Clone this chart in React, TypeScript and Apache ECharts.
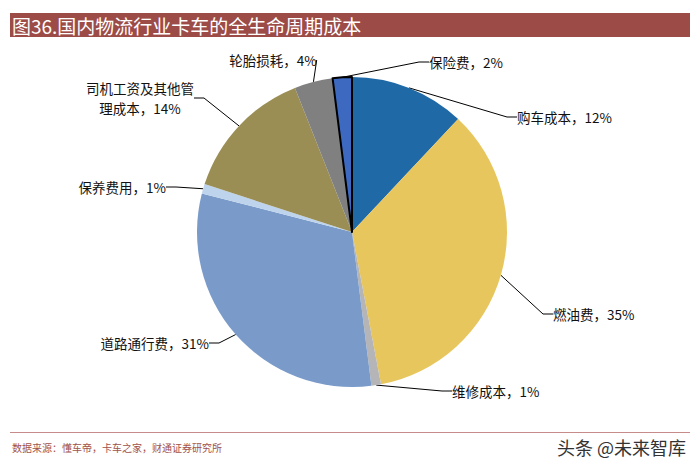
import React, { useEffect, useRef } from "react";
import * as echarts from "echarts";

const categories = ["购车成本", "燃油费", "维修成本", "道路通行费", "保养费用", "司机工资及其他管理成本", "轮胎损耗", "保险费"];
const shares = [12, 35, 1, 31, 1, 14, 4, 2];
const sliceColors = ["#1F69A6", "#E8C65E", "#B5B5B8", "#7A9BCA", "#BDD4EC", "#9A8E55", "#808080", "#3D6AC0"];
const titleText = "图36.国内物流行业卡车的全生命周期成本";
const sourceText = "数据来源：懂车帝，卡车之家，财通证券研究所";
const watermarkText = "头条 @未来智库";

// label anchor positions (layout only)
const labelPos: { x: number; y: number; align: string }[] = [
  { x: 517, y: 117, align: "left" },
  { x: 553, y: 314, align: "left" },
  { x: 452, y: 391, align: "left" },
  { x: 209, y: 343, align: "right" },
  { x: 166, y: 187, align: "right" },
  { x: 140, y: 98, align: "center" },
  { x: 273, y: 60, align: "center" },
  { x: 429, y: 62, align: "left" },
];

export default function App() {
  const ref = useRef<HTMLDivElement>(null);
  useEffect(() => {
    document.body.style.margin = "0";
    const chart = echarts.init(ref.current!, undefined, { renderer: "svg" });
    const font = "'Noto Sans CJK SC', 'Noto Sans', sans-serif";
    chart.setOption({
      animation: false,
      backgroundColor: "#ffffff",
      graphic: [
        { type: "rect", shape: { x: 10, y: 13, width: 680, height: 24 }, style: { fill: "#9C4B47" } },
        { type: "text", x: 12, y: 25, style: { text: titleText, fill: "#ffffff", font: `19px ${font}`, verticalAlign: "middle" } },
        { type: "line", shape: { x1: 10, y1: 432.5, x2: 690, y2: 432.5 }, style: { stroke: "#C58C8A", lineWidth: 1 } },
        { type: "text", x: 12, y: 447, style: { text: sourceText, fill: "#A0524D", font: `10px ${font}`, verticalAlign: "middle" } },
        { type: "text", x: 557, y: 447, style: { text: watermarkText, fill: "#333333", font: `18px ${font}`, verticalAlign: "middle" } },
      ],
      series: [
        {
          type: "pie",
          center: [352, 232],
          radius: [0, 155],
          startAngle: 90,
          clockwise: true,
          avoidLabelOverlap: false,
          emphasis: { disabled: true },
          data: categories.map((name, i) => ({
            name,
            value: shares[i],
            itemStyle: {
              color: sliceColors[i],
              borderColor: i === 7 ? "#000000" : sliceColors[i],
              borderWidth: i === 7 ? 2 : 0,
            },
          })),
          label: {
            show: true,
            color: "#111111",
            fontSize: 13.5,
            fontFamily: font,
            lineHeight: 20,
            formatter: (p: any) => {
              const n: string = p.name;
              const head = n.length > 8 ? n.slice(0, 8) + "\n" + n.slice(8) : n;
              return `${head}，${p.value}%`;
            },
          },
          labelLine: { show: true, length: 10, length2: 10, lineStyle: { color: "#000000", width: 1 } },
          labelLayout: (params: any) => {
            const p = labelPos[params.dataIndex];
            return { x: p.x, y: p.y, align: p.align, verticalAlign: "middle" };
          },
        },
      ],
    });
    return () => chart.dispose();
  }, []);
  return <div ref={ref} style={{ width: 700, height: 469 }} />;
}
